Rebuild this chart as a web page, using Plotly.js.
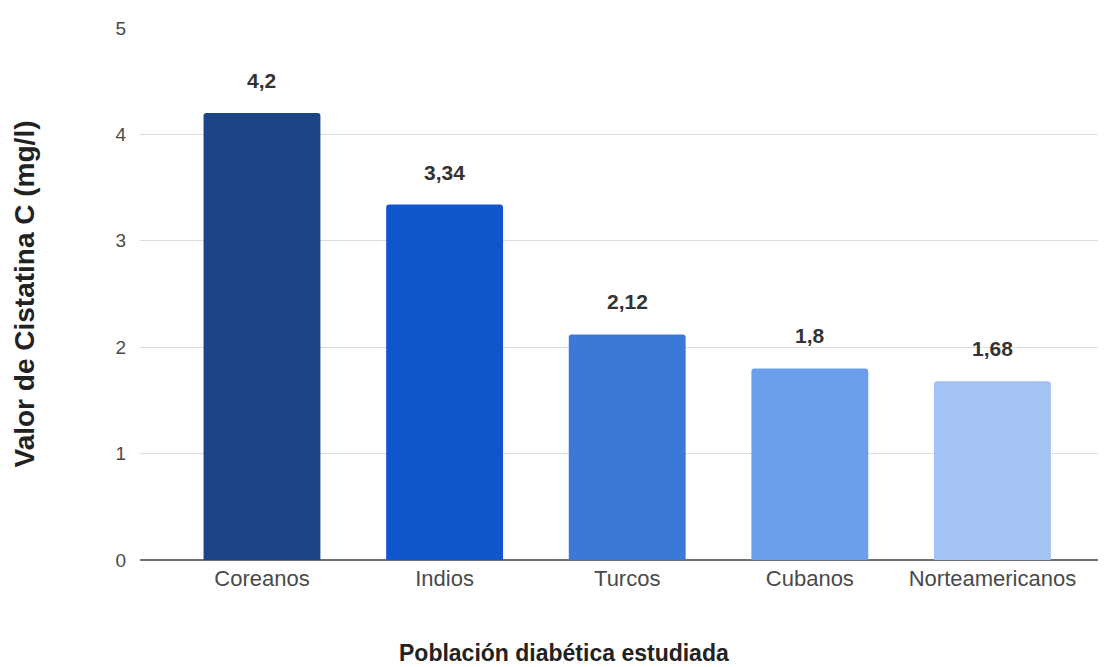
<!DOCTYPE html>
<html>
<head>
<meta charset="utf-8">
<script src="https://cdn.plot.ly/plotly-3.0.1.min.js"></script>
<style>html,body{margin:0;padding:0;background:#fff;}#chart{width:1107px;height:667px;}</style>
</head>
<body>
<div id="chart"></div>
<script>
const categories = ["Coreanos", "Indios", "Turcos", "Cubanos", "Norteamericanos"];
const values = [4.2, 3.34, 2.12, 1.8, 1.68];
const barColors = ["#1c4587", "#1155cc", "#3c78d8", "#6d9eeb", "#a4c2f4"];
const yTickValues = [0, 1, 2, 3, 4, 5];
const xTitle = "Población diabética estudiada";
const yTitle = "Valor de Cistatina C (mg/l)";

const FONT = "Liberation Sans, Arial, sans-serif";

const trace = {
  type: "bar",
  x: categories,
  y: values,
  marker: { color: barColors },
  width: 0.64,
  hoverinfo: "x+y"
};

const annotations = categories.map((c, i) => ({
  x: c,
  y: values[i],
  xref: "x",
  yref: "y",
  text: String(values[i]).replace(".", ","),
  showarrow: false,
  yanchor: "bottom",
  yshift: 19,
  font: { family: FONT, size: 21, color: "#333333", weight: "bold" }
}));

annotations.push({
  xref: "paper",
  yref: "paper",
  x: 0.4426,
  y: -0.175,
  xanchor: "center",
  yanchor: "middle",
  text: xTitle,
  showarrow: false,
  font: { family: FONT, size: 23, color: "#222222", weight: "bold" }
});

const layout = {
  width: 1107,
  height: 667,
  margin: { l: 140, r: 9, t: 28, b: 107 },
  paper_bgcolor: "#ffffff",
  plot_bgcolor: "#ffffff",
  showlegend: false,
  barcornerradius: 3,
  separators: ",.",
  xaxis: {
    type: "category",
    range: [-0.668, 4.578],
    showgrid: false,
    zeroline: false,
    showline: false,
    ticks: "",
    ticklabelstandoff: 3,
    tickfont: { family: FONT, size: 22, color: "#4a4a4a" }
  },
  yaxis: {
    range: [0, 5],
    tickvals: yTickValues,
    ticktext: yTickValues.map(String),
    showgrid: true,
    gridcolor: "#dddddd",
    gridwidth: 1,
    zeroline: true,
    zerolinecolor: "#707070",
    zerolinewidth: 1.5,
    showline: false,
    ticks: "",
    ticklabelstandoff: 13,
    tickfont: { family: FONT, size: 19, color: "#4a4a4a" },
    title: {
      text: yTitle,
      font: { family: FONT, size: 28, color: "#222222", weight: "bold" },
      standoff: 72
    }
  },
  annotations: annotations
};

Plotly.newPlot("chart", [trace], layout, { displayModeBar: false, staticPlot: true });
</script>
</body>
</html>
